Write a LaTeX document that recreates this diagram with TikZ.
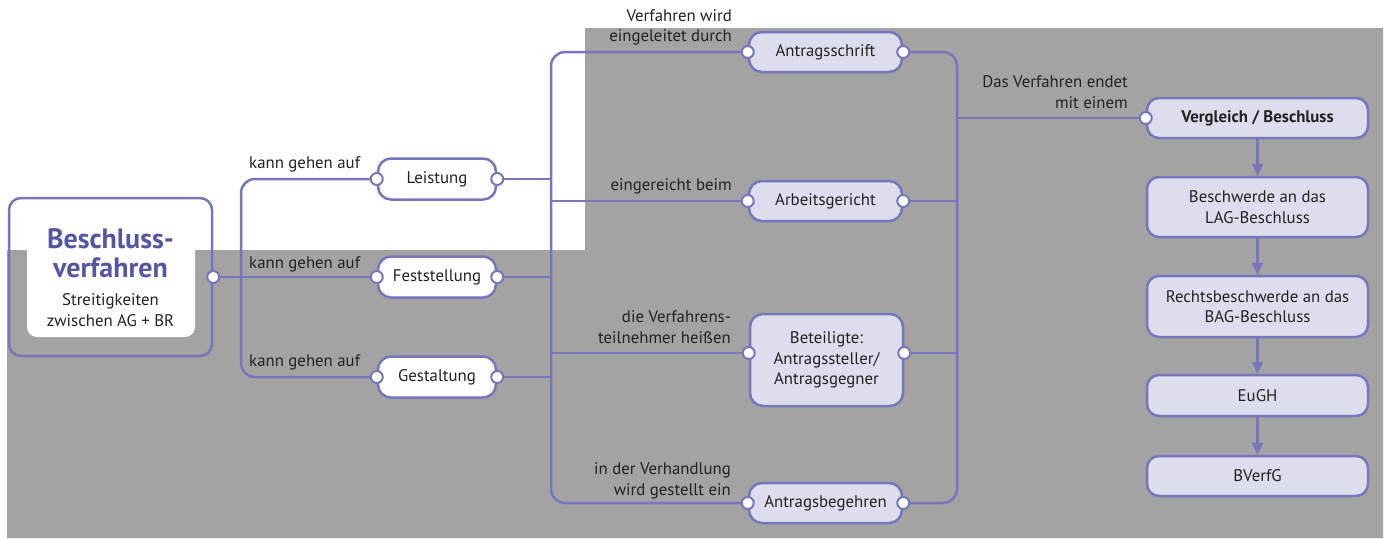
\documentclass[tikz,border=0pt]{standalone}
\usepackage{fontspec}
\setmainfont{PT Sans}
\usetikzlibrary{arrows.meta,calc}
\definecolor{lc}{RGB}{118,118,188}
\definecolor{tc}{RGB}{85,85,160}
\definecolor{lav}{RGB}{221,221,238}
\definecolor{bg}{RGB}{163,163,163}
\definecolor{txt}{RGB}{34,34,34}
\newcommand\labfont{\fontsize{16.8}{20.5}\selectfont}
\newcommand\ttlfont{\fontsize{28}{27}\selectfont\bfseries}
\begin{document}
\begin{tikzpicture}[x=1pt,y=-1pt,
  box/.style={draw=lc, line width=2.5pt, rounded corners=13pt, inner sep=0pt, align=center, text=txt, font=\labfont},
  pillw/.style={box, fill=white},
  pilll/.style={box, fill=lav},
  rbox/.style={box, fill=lav, rounded corners=12pt},
  port/.style={circle, draw=lc, line width=2pt, fill=white, inner sep=0pt, minimum size=12pt},
  conn/.style={draw=lc, line width=2.5pt, rounded corners=14pt},
  arr/.style={draw=lc, line width=2.5pt, -{Triangle[width=11pt,length=12pt]}},
  lab/.style={text=txt, font=\labfont, inner sep=0pt, align=right}]
\useasboundingbox (0,0) rectangle (1388,538);
% background
\fill[bg] (7,250) -- (585,250) -- (585,28) -- (1383,28) -- (1383,538) -- (7,538) -- cycle;
% main box
\fill[white, rounded corners=10pt] (27,205) rectangle (195,337);
\node[draw=lc, line width=2.5pt, rounded corners=12pt, minimum width=203pt, minimum height=158pt, inner sep=0pt] (Main) at (110.5,277) {};
\node[text=tc, font=\ttlfont, align=center, inner sep=0pt] (Title) at (110.5,257.1) {\strut Beschluss-\\verfahren\strut};
\node[text=txt, font=\labfont, align=center, inner sep=0pt] (Sub) at (110.5,311.9) {\strut Streitigkeiten\\zwischen AG + BR\strut};
% pills
\node[pillw, minimum width=118pt, minimum height=41pt] (Lei) at (437,179) {Leistung};
\node[pillw, minimum width=118pt, minimum height=41pt] (Fest) at (437,277) {Feststellung};
\node[pillw, minimum width=118pt, minimum height=41pt] (Ges) at (437,377) {Gestaltung};
\node[pilll, minimum width=153pt, minimum height=40pt] (Ants) at (825.5,52) {Antragsschrift};
\node[pilll, minimum width=153pt, minimum height=40pt] (Arb) at (825.5,201) {Arbeitsgericht};
\node[pilll, minimum width=153pt, minimum height=92pt] (Bet) at (826.5,360) {Beteiligte:\\Antragssteller/\\Antragsgegner};
\node[pilll, minimum width=153pt, minimum height=40pt] (Antb) at (825.5,503) {Antragsbegehren};
% right column
\node[rbox, minimum width=221pt, minimum height=40pt, font=\labfont\bfseries] (Verg) at (1257.5,118) {Vergleich / Beschluss};
\node[rbox, minimum width=221pt, minimum height=60pt] (Besch) at (1257.5,207) {Beschwerde an das\\LAG-Beschluss};
\node[rbox, minimum width=221pt, minimum height=61pt] (Rechts) at (1257.5,306.5) {Rechtsbeschwerde an das\\BAG-Beschluss};
\node[rbox, minimum width=221pt, minimum height=41pt] (EuGH) at (1257.5,395.5) {EuGH};
\node[rbox, minimum width=221pt, minimum height=40pt] (BVerfG) at (1257.5,476) {BVerfG};
% helper coordinates
\coordinate (xA) at (241,0);
\coordinate (xB) at (551,0);
\coordinate (xC) at (957,0);
\coordinate (BetL) at ([yshift=7pt]Bet.west);
\coordinate (BetR) at ([yshift=7pt]Bet.east);
% connectors
\draw[conn] (Main.east) -- (Fest.west);
\draw[conn] (Lei.west) -- (Lei.west -| xA) -- (Ges.west -| xA) -- (Ges.west);
\draw[conn] (Ants.west) -- (Ants.west -| xB) -- (Antb.west -| xB) -- (Antb.west);
\draw[conn] (Lei.east) -- (Lei.east -| xB);
\draw[conn] (Fest.east) -- (Fest.east -| xB);
\draw[conn] (Ges.east) -- (Ges.east -| xB);
\draw[conn] (Arb.west -| xB) -- (Arb.west);
\draw[conn] (BetL -| xB) -- (BetL);
\draw[conn] (Ants.east) -- (Ants.east -| xC) -- (Antb.east -| xC) -- (Antb.east);
\draw[conn] (Arb.east) -- (Arb.east -| xC);
\draw[conn] (BetR) -- (BetR -| xC);
\draw[conn] (Verg.west -| xC) -- (Verg.west);
\draw[arr] (Verg.south) -- (Besch.north);
\draw[arr] (Besch.south) -- (Rechts.north);
\draw[arr] (Rechts.south) -- (EuGH.north);
\draw[arr] (EuGH.south) -- (BVerfG.north);
% ports
\node[port] (pMain) at (Main.east) {};
\node[port] (pLeiL) at (Lei.west) {};
\node[port] (pLeiR) at (Lei.east) {};
\node[port] (pFestL) at (Fest.west) {};
\node[port] (pFestR) at (Fest.east) {};
\node[port] (pGesL) at (Ges.west) {};
\node[port] (pGesR) at (Ges.east) {};
\node[port] (pAntsL) at (Ants.west) {};
\node[port] (pAntsR) at (Ants.east) {};
\node[port] (pArbL) at (Arb.west) {};
\node[port] (pArbR) at (Arb.east) {};
\node[port] (pBetL) at (BetL) {};
\node[port] (pBetR) at (BetR) {};
\node[port] (pAntbL) at (Antb.west) {};
\node[port] (pAntbR) at (Antb.east) {};
\node[port] (pVerg) at (Verg.west) {};
% labels
\node[lab, anchor=base west] (l1) at (249,168) {kann gehen auf};
\node[lab, anchor=base west] (l2) at (249,268) {kann gehen auf};
\node[lab, anchor=base west] (l3) at (249,366) {kann gehen auf};
\node[lab, anchor=east] (l4) at (732,27.4) {\strut Verfahren wird\\eingeleitet durch\strut};
\node[lab, anchor=base east] (l5) at (732,190) {eingereicht beim};
\node[lab, anchor=east] (l6) at (731,328.9) {\strut die Verfahrens-\\teilnehmer heißen\strut};
\node[lab, anchor=east] (l7) at (731,480.9) {\strut in der Verhandlung\\wird gestellt ein\strut};
\node[lab, anchor=east] (l8) at (1128,93.9) {\strut Das Verfahren endet\\mit einem\strut};
\end{tikzpicture}
\end{document}
